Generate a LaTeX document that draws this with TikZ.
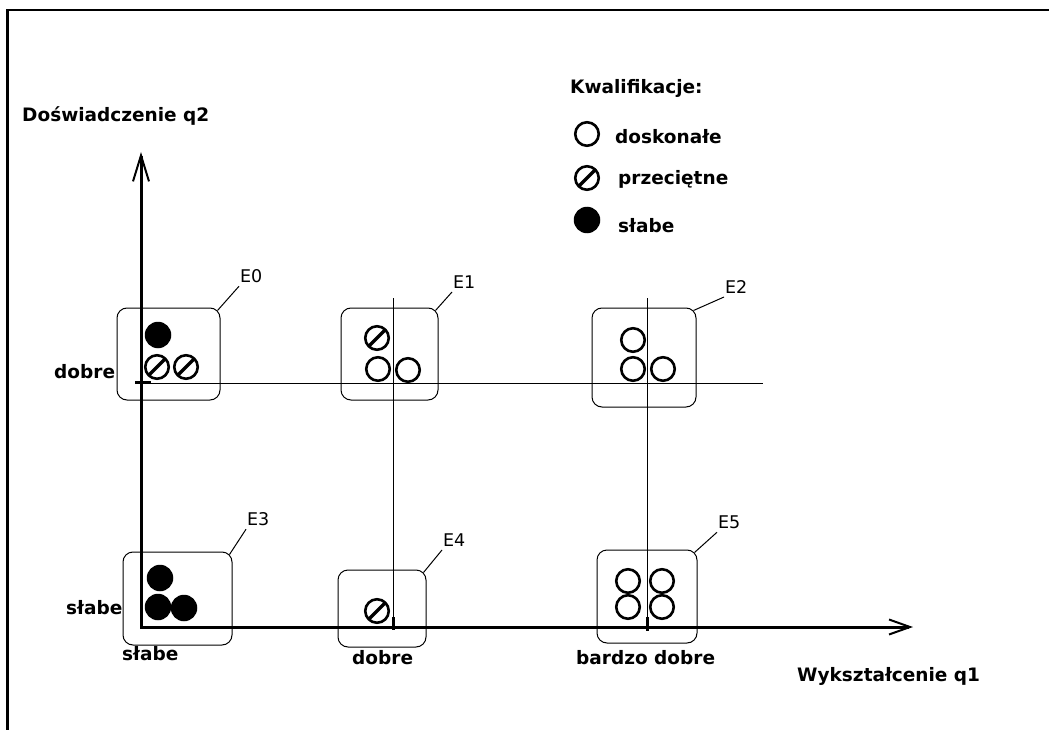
\documentclass[tikz,border=0pt]{standalone}
\usepackage{fontspec}
\setmainfont{DejaVu Sans}
\usetikzlibrary{arrows.meta,calc}
\begin{document}
\begin{tikzpicture}[x=1pt,y=-1pt,
  lab/.style={font=\bfseries\fontsize{18.5}{20}\selectfont, inner sep=0pt},
  elab/.style={font=\fontsize{17.5}{19}\selectfont, inner sep=0pt, outer xsep=1pt, outer ysep=4pt},
  ebox/.style={draw, line width=1pt, rounded corners=10pt, inner sep=0pt},
  thinline/.style={line width=1pt},
  stub/.style={line width=3pt},
  axisline/.style={line width=3pt},
  lead/.style={line width=1pt},
  good/.style={circle, draw, line width=2.6pt, minimum size=23.5pt, inner sep=0pt},
  avg/.style={good, path picture={\draw[line width=3.2pt] (path picture bounding box.south west) -- (path picture bounding box.north east);}},
  bad/.style={circle, fill=black, minimum size=26.5pt, inner sep=0pt},
]
\useasboundingbox (0,0) rectangle (1049,730);
% frame
\draw[line width=2.5pt] (7.5,730) -- (7.5,10) -- (1049,10);

% boxes
\node[ebox, minimum width=103pt, minimum height=92pt] (E0) at (168.5,354) {};
\node[ebox, minimum width=97pt, minimum height=92pt] (E1) at (389.5,354) {};
\node[ebox, minimum width=104pt, minimum height=99pt] (E2) at (644,357.5) {};
\node[ebox, minimum width=109pt, minimum height=93pt] (E3) at (177.5,598.5) {};
\node[ebox, minimum width=88pt, minimum height=77pt] (E4) at (382,608.5) {};
\node[ebox, minimum width=100pt, minimum height=93pt] (E5) at (647,596.5) {};

% box labels
\node[elab, anchor=base west] (L0) at (239,282) {E0};
\node[elab, anchor=base west] (L1) at (452,288) {E1};
\node[elab, anchor=base west] (L2) at (724,293) {E2};
\node[elab, anchor=base west] (L3) at (246,525) {E3};
\node[elab, anchor=base west] (L4) at (442,546) {E4};
\node[elab, anchor=base west] (L5) at (717,528) {E5};
\foreach \b/\l in {E0/L0,E1/L1,E2/L2,E3/L3,E4/L4,E5/L5}
  \draw[lead] ($(\b.north east)+(-3pt,-3pt)$) -- (\l.south west);

% grid lines
\coordinate (h1) at (135,383);
\coordinate (h2) at (763,383);
\coordinate (v1t) at (393,298);
\coordinate (v1b) at (393,627);
\coordinate (v2t) at (647,298);
\coordinate (v2b) at (647,627);
\draw[thinline] (h1) -- (h2);
\draw[thinline] (v1t) -- (v1b);
\draw[thinline] (v2t) -- (v2b);
\coordinate (s0a) at (135,382);
\coordinate (s0b) at (151,382);
\coordinate (s1a) at (393,617);
\coordinate (s1b) at (393,630);
\coordinate (s2a) at (647,617);
\coordinate (s2b) at (647,631);
\draw[stub] (s0a) -- (s0b);
\draw[stub] (s1a) -- (s1b);
\draw[stub] (s2a) -- (s2b);

% axes
\coordinate (O) at (141,627);
\coordinate (ytop) at (141,152);
\coordinate (xend) at (913,627);
\draw[axisline, {Straight Barb[length=26pt,width=16pt,line width=2pt]}-{Straight Barb[length=21pt,width=15pt,line width=2pt]}] (ytop) -- (O) -- (xend);

% E0
\node[bad] (a1) at (158,335) {};
\node[avg] (a2) at (157,367) {};
\node[avg] (a3) at (186,367) {};
% E1
\node[avg] (b1) at (377,338) {};
\node[good] (b2) at (378,369) {};
\node[good] (b3) at (408,370) {};
% E2
\node[good] (c1) at (633,340) {};
\node[good] (c2) at (633,369) {};
\node[good] (c3) at (663,369) {};
% E3
\node[bad] (d1) at (160,578) {};
\node[bad] (d2) at (158,607) {};
\node[bad] (d3) at (184,608) {};
% E4
\node[avg] (e1) at (377,611) {};
% E5
\node[good] (f1) at (628,581) {};
\node[good] (f2) at (662,581) {};
\node[good] (f3) at (628,607) {};
\node[good] (f4) at (662,607) {};

% legend
\node[lab, anchor=base west] (t0) at (570,94) {Kwalifikacje:};
\node[good] (lg1) at (587,134) {};
\node[avg] (lg2) at (587,178) {};
\node[bad] (lg3) at (587,220) {};
\node[lab, anchor=base west] (t1) at (615,144) {doskonałe};
\node[lab, anchor=base west] (t2) at (618,185) {przeciętne};
\node[lab, anchor=base west] (t3) at (618,233) {słabe};

% axis labels
\node[lab, anchor=base west] (yl) at (22,122) {Doświadczenie q2};
\node[lab, anchor=base west] (yd) at (54,378) {dobre};
\node[lab, anchor=base west] (ys) at (66,614) {słabe};
\node[lab, anchor=base west] (xs) at (122,660) {słabe};
\node[lab, anchor=base west] (xd) at (352,664) {dobre};
\node[lab, anchor=base west] (xb) at (576,664) {bardzo dobre};
\node[lab, anchor=base west] (xl) at (797,681) {Wykształcenie q1};
\end{tikzpicture}
\end{document}
